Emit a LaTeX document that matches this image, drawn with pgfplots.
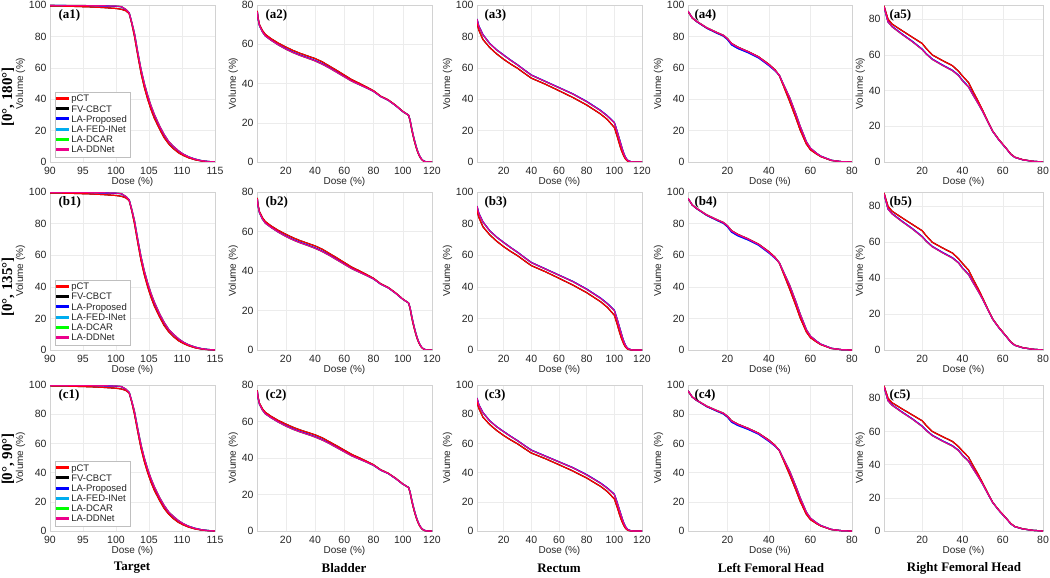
\documentclass[border=0pt]{standalone}
\usepackage{fontspec}
\setmainfont{Liberation Sans}
\newfontfamily\serifb{Liberation Serif}
\usepackage{pgfplots}
\pgfplotsset{compat=1.18}
\usepackage{pgfplotstable}

\definecolor{txt}{RGB}{38,38,38}

% columns: dose, pCT, LA-DDNet, LA-Proposed
\pgfplotstableread{
x pct dd lp
90 99.4 99.8 99.7
93 99.2 99.7 99.6
96 98.8 99.6 99.5
98 98.4 99.5 99.4
100 97.8 99.3 99.2
100.8 97.3 99.0 98.9
101.5 96.3 97.2 97.0
102.0 94.5 95.0 95.0
102.4 88 89 88.5
102.8 80 82 81.5
103.3 68 70 69.5
103.8 56.5 59 58.5
104.3 47.5 50 49.5
104.8 40 42.5 42
105.3 33.5 36 35.5
105.8 28 30.5 30
106.6 21 23 22.7
107.3 15.5 17.5 17.2
108 11.5 13 12.8
108.7 8.5 10 9.8
109.5 5.8 7 6.9
110.2 4.2 5 4.9
111 2.7 3.3 3.2
112 1.4 1.8 1.8
113 0.6 0.8 0.8
114 0.2 0.3 0.3
115 0 0.05 0.05
}\tgt

\pgfplotstableread{
x pct dd lp
0.5 77 76.5 76.5
1 73.5 73 73
2 70 69.5 69.5
4 67 66.3 66.4
6 65 64.2 64.3
10 62.8 62 62.1
15 60.5 59.6 59.7
20 58.6 57.5 57.7
25 56.8 55.7 55.9
30 55.3 54.2 54.4
35 54 52.9 53.1
40 52.7 51.5 51.7
45 51 49.8 50
50 48.8 47.8 48
55 46.6 45.6 45.8
60 44.3 43.4 43.6
65 42 41.2 41.4
70 40.2 39.5 39.6
75 38.3 37.8 37.9
80 36.3 36 36
85 33.5 33.3 33.3
90 31.7 31.5 31.5
95 29 28.8 28.8
100 25.8 25.7 25.7
102 24.8 24.8 24.8
104 23.8 23.8 23.8
105 21 21.5 21.3
106 17 17.8 17.5
107 13.5 14.3 14
108 10.5 11.2 11
109 7.8 8.4 8.2
110 5.5 6 5.8
111 3.6 4 3.9
112 2.2 2.5 2.4
113 1.2 1.4 1.3
114 0.6 0.7 0.7
115 0.2 0.3 0.3
117 0 0 0
120 0 0 0
}\bla

\pgfplotstableread{
x pct dd lp
0.7 88.6 91 91.1
2 84 86.5 86.6
5 78 81 81.1
10 72.8 75.3 75.4
15 68.8 71.3 71.4
20 65.4 68 68.1
25 62.4 64.8 64.9
30 59.7 61.8 61.9
35 56.5 58.5 58.6
40 53.4 55.3 55.4
50 49.6 51.3 51.4
60 45.4 47.3 47.4
70 41.1 43.3 43.4
80 36.3 38.4 38.6
90 30.6 32.7 32.9
95 27 29.2 29.4
100 22 25 25.2
102 16.5 19.5 19.6
104 10.5 13.5 13.6
105 7.8 10.5 10.6
106 5.5 7.5 7.6
107 3.5 5 5.1
108 2 3 3.1
109 1 1.7 1.8
110 0.4 0.8 0.8
112 0.05 0.2 0.2
114 0 0 0
120 0 0 0
}\rec

\pgfplotstableread{
x pct dd lp
1 96 96 96
3 91.8 92 91.8
5 89.7 89.8 89.6
10 85.4 85.6 85.2
15 82.3 82.5 82
18 80.6 80.8 80.2
20 78.5 78.7 78
22 75.5 75.3 74.6
25 73.2 73 72.3
30 70.3 70.2 69.6
35 67 66.8 66.3
40 62.2 61.8 61.4
43 58.6 58.2 58
45 55 55.3 55.2
47 48.5 49.5 49.3
50 38.5 41 40.6
53 28 30.5 30.2
55 20.5 23 22.7
58 11.5 13 12.8
60 7.8 8.8 8.7
63 5 5.5 5.5
65 3.4 3.7 3.7
70 1 1.1 1.1
75 0.2 0.2 0.2
80 0 0 0
}\lfh

\pgfplotstableread{
x pct dd lp
1 87.5 87 87
3 80 78.5 78.6
5 77.3 75.8 76
10 73.6 71.5 71.7
15 70 67.5 67.7
20 66.4 63 63.2
22 63.6 60.5 60.7
25 60 57.5 57.7
30 56.9 54.2 54.4
35 54 51.2 51.4
38 50.9 48.5 48.7
40 48.2 45.5 45.7
43 44.5 42 42.2
45 40 38 38.2
48 33.6 32.3 32.5
50 29 28.3 28.4
53 21.8 21.5 21.6
55 17.3 17.2 17.2
58 12.7 12.5 12.5
60 10 9.8 9.8
62 7.3 7.2 7.2
64 4.5 4.3 4.3
66 2.7 2.6 2.6
70 1.3 1.2 1.2
75 0.4 0.4 0.4
80 0 0 0
}\rfh

\pgfplotsset{
  dvh/.style={
    scale only axis, anchor=north west,
    axis line style={gray!35},
    grid=major, grid style={gray!15, line width=0.4pt},
    major tick length=0pt,
    ticklabel style={font=\fontsize{10.5}{12}\selectfont, text=txt},
    xticklabel style={yshift=-1.5pt},
    label style={font=\fontsize{10}{12}\selectfont, text=txt},
    /pgf/number format/assume math mode=true,
    xlabel={Dose (\%)}, ylabel={Volume (\%)},
    xlabel style={yshift=4pt}, ylabel style={yshift=-3pt},
    ymin=0,
    every axis plot/.append style={line width=1.2pt},
  },
  c1/.style={dvh, width=165pt, xmin=90, xmax=115, ymax=100, xtick={90,95,...,115}, ytick={0,20,...,100},
    legend style={at={(0.03,0.03)}, anchor=south west, draw=gray!50, fill=white,
      font=\fontsize{9.5}{11}\selectfont, text=txt, inner sep=1pt, row sep=-2pt},
    legend cell align=left,
    legend image code/.code={\fill[##1] (0pt,-0.1pt) rectangle (12pt,1.7pt);}},
  c2/.style={dvh, width=175pt, xmin=0.3, xmax=120, ymax=80, xtick={20,40,...,120}, ytick={0,20,...,80}},
  c3/.style={dvh, width=165pt, xmin=0.7, xmax=120, ymax=100, xtick={20,40,...,120}, ytick={0,20,...,100}},
  c4/.style={dvh, width=164pt, xmin=1, xmax=80, ymax=100, xtick={20,40,...,80}, ytick={0,20,...,100}},
  c5/.style={dvh, width=159pt, xmin=1, xmax=80, ymax=88, xtick={20,40,...,80}, ytick={0,20,...,80}},
}

\newcommand{\curves}[1]{%
  \addplot[black, forget plot] table[x=x,y=pct]{#1};
  \addplot[green, forget plot] table[x=x,y=dd]{#1};
  \addplot[cyan, forget plot] table[x=x,y=lp]{#1};
  \addplot[blue, forget plot] table[x=x,y=lp]{#1};
  \addplot[red, forget plot] table[x=x,y=pct]{#1};
  \addplot[magenta, forget plot] table[x=x,y=dd]{#1};
}
\newcommand{\legentries}{%
  \addlegendimage{red}\addlegendentry{pCT}
  \addlegendimage{black}\addlegendentry{FV-CBCT}
  \addlegendimage{blue}\addlegendentry{LA-Proposed}
  \addlegendimage{cyan}\addlegendentry{LA-FED-INet}
  \addlegendimage{green}\addlegendentry{LA-DCAR}
  \addlegendimage{magenta}\addlegendentry{LA-DDNet}
}

\begin{document}
\begin{tikzpicture}
\useasboundingbox (0,0) rectangle (1050pt,-578pt);

% row a
\begin{axis}[c1, at={(50pt,-5pt)}, height=157pt] \legentries \curves{\tgt} \end{axis}
\begin{axis}[c2, at={(257pt,-5pt)}, height=157pt] \curves{\bla} \end{axis}
\begin{axis}[c3, at={(477pt,-5pt)}, height=157pt] \curves{\rec} \end{axis}
\begin{axis}[c4, at={(688pt,-5pt)}, height=157pt] \curves{\lfh} \end{axis}
\begin{axis}[c5, at={(884pt,-5pt)}, height=157pt] \curves{\rfh} \end{axis}
% row b
\begin{axis}[c1, at={(50pt,-192pt)}, height=158pt] \legentries \curves{\tgt} \end{axis}
\begin{axis}[c2, at={(257pt,-192pt)}, height=158pt] \curves{\bla} \end{axis}
\begin{axis}[c3, at={(477pt,-192pt)}, height=158pt] \curves{\rec} \end{axis}
\begin{axis}[c4, at={(688pt,-192pt)}, height=158pt] \curves{\lfh} \end{axis}
\begin{axis}[c5, at={(884pt,-192pt)}, height=158pt] \curves{\rfh} \end{axis}
% row c
\begin{axis}[c1, at={(50pt,-385pt)}, height=146pt] \legentries \curves{\tgt} \end{axis}
\begin{axis}[c2, at={(257pt,-385pt)}, height=146pt] \curves{\bla} \end{axis}
\begin{axis}[c3, at={(477pt,-385pt)}, height=146pt] \curves{\rec} \end{axis}
\begin{axis}[c4, at={(688pt,-385pt)}, height=146pt] \curves{\lfh} \end{axis}
\begin{axis}[c5, at={(884pt,-385pt)}, height=146pt] \curves{\rfh} \end{axis}

% panel tags
\begin{scope}[every node/.style={anchor=west, font=\serifb\bfseries\fontsize{13}{15}\selectfont}]
\foreach \r/\y in {a/-15pt, b/-202pt, c/-395pt}{
  \node at (55pt,\y) {(\r1)};
  \node at (262pt,\y) {(\r2)};
  \node at (481pt,\y) {(\r3)};
  \node at (691pt,\y) {(\r4)};
  \node at (886pt,\y) {(\r5)};
}
\end{scope}

% row and column titles
\begin{scope}[every node/.style={font=\serifb\bfseries\fontsize{15}{17}\selectfont, inner sep=0pt}]
\node[rotate=90] at (8pt,-97pt) {[0°, 180°]};
\node[rotate=90] at (8pt,-287pt) {[0°, 135°]};
\node[rotate=90] at (8pt,-459pt) {[0°, 90°]};
\end{scope}
\begin{scope}[every node/.style={font=\serifb\bfseries\fontsize{13}{15}\selectfont}]
\node at (132pt,-568pt) {Target};
\node at (344pt,-568pt) {Bladder};
\node at (559pt,-568pt) {Rectum};
\node at (771pt,-568pt) {Left Femoral Head};
\node at (964pt,-568pt) {Right Femoral Head};
\end{scope}
\end{tikzpicture}
\end{document}
